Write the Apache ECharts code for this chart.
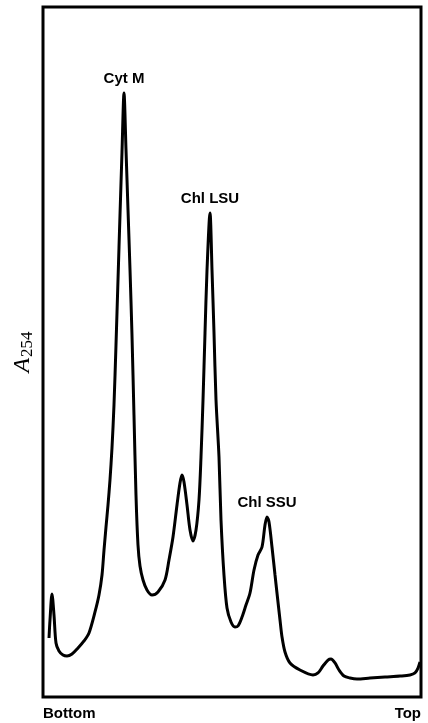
<!DOCTYPE html>
<html><head><meta charset="utf-8">
<script src="https://cdn.jsdelivr.net/npm/echarts@6/dist/echarts.min.js"></script>
<style>html,body{margin:0;padding:0;background:#fff}#c{width:428px;height:723px}</style>
</head><body><div id="c"></div>
<script>
// Gradient position (0 = bottom of tube, 100 = top)
const position = [1.59,1.85,2.38,2.91,3.44,4.23,5.29,6.35,7.67,9.26,10.85,12.17,13.76,14.81,15.61,16.14,16.67,17.20,17.72,18.25,18.78,19.31,19.84,20.37,20.90,21.43,21.96,22.49,23.02,23.54,24.07,24.60,25.13,25.66,26.46,27.51,28.84,30.42,32.28,33.33,34.39,35.45,36.24,36.77,37.30,38.10,38.89,39.68,40.48,41.27,41.80,42.33,42.86,43.39,44.18,44.71,45.24,45.77,46.56,47.09,47.88,48.68,49.74,50.79,51.59,52.65,53.70,54.76,55.82,56.88,57.94,58.73,59.26,59.79,60.58,61.38,61.90,62.70,63.23,64.02,65.34,67.99,71.43,72.75,74.07,75.40,76.19,77.25,78.31,79.63,81.22,83.07,86.51,90.48,94.44,97.09,98.41,99.21,99.74];
// Absorbance at 254 nm (arbitrary units)
const absorbance = [8.55,11.16,14.93,11.88,7.83,6.67,6.09,5.94,6.23,7.10,8.12,9.28,12.32,14.78,17.68,21.30,24.64,27.83,31.45,36.09,42.32,51.01,60.43,69.86,78.99,87.54,79.28,70.58,61.88,52.46,40.87,29.28,22.03,18.99,16.96,15.51,14.78,15.22,16.96,19.86,23.19,27.83,31.01,32.17,31.16,27.83,24.20,22.61,24.20,28.55,34.78,43.04,52.75,61.88,70.14,61.88,52.75,43.04,34.78,25.65,17.68,12.90,10.87,10.14,10.29,11.59,13.33,15.07,18.41,20.58,21.74,24.93,26.09,25.36,21.74,17.68,15.07,11.16,8.70,6.52,4.93,3.91,3.19,3.48,4.49,5.36,5.51,4.93,3.91,3.04,2.75,2.61,2.75,2.90,3.04,3.19,3.48,4.20,5.07];
const xTickLabels = ['Bottom', 'Top'];
const peakNames = ['Cyt M', 'Chl LSU', 'Chl SSU'];
const peakPositions = [21.43, 44.18, 59.26];

const lineData = position.map((x, i) => [x, absorbance[i]]);
const peakMarks = peakNames.map((n, i) => {
  const idx = position.indexOf(peakPositions[i]);
  return { name: n, coord: [position[idx], absorbance[idx]] };
});

const chart = echarts.init(document.getElementById('c'), null, { renderer: 'canvas' });
chart.setOption({
  animation: false,
  backgroundColor: '#fff',
  grid: { left: 43, right: 7, top: 7, bottom: 26, containLabel: false, outerBoundsMode: 'none',
          show: true, borderColor: '#000', borderWidth: 3, backgroundColor: 'transparent' },
  xAxis: {
    type: 'value', min: 0, max: 100, interval: 100,
    axisLine: { show: false }, axisTick: { show: false }, splitLine: { show: false },
    axisLabel: {
      margin: 9, color: '#000', fontFamily: 'Liberation Sans', fontWeight: 'bold', fontSize: 15,
      alignMinLabel: 'left', alignMaxLabel: 'right',
      formatter: v => v === 0 ? xTickLabels[0] : (v === 100 ? xTickLabels[1] : '')
    }
  },
  yAxis: {
    type: 'value', min: 0, max: 100,
    axisLine: { show: false }, axisTick: { show: false }, splitLine: { show: false }, axisLabel: { show: false },
    name: '{a|A}{s|254}', nameLocation: 'middle', nameRotate: 90, nameGap: 7,
    nameTextStyle: {
      rich: {
        a: { fontFamily: 'Liberation Serif', fontStyle: 'italic', fontSize: 24, color: '#000' },
        s: { fontFamily: 'Liberation Serif', fontSize: 17, color: '#000', padding: [10, 0, 0, 1] }
      }
    }
  },
  series: [{
    type: 'line', data: lineData, showSymbol: false, smooth: 0.3,
    lineStyle: { color: '#000', width: 3 },
    markPoint: {
      symbol: 'circle', symbolSize: 0,
      label: { show: true, position: 'top', distance: 7, color: '#000', fontFamily: 'Liberation Sans', fontWeight: 'bold', fontSize: 15, formatter: p => p.name },
      data: peakMarks
    }
  }]
});
</script></body></html>
